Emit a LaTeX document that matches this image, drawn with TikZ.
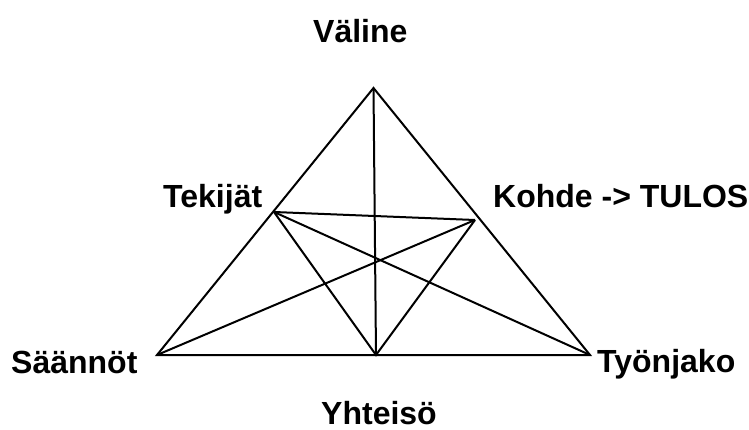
\documentclass[tikz,border=0pt]{standalone}
\usepackage{fontspec}
\setmainfont{Liberation Sans}
\begin{document}
\begin{tikzpicture}[x=1pt,y=-1pt,
  lbl/.style={font=\fontsize{32}{36}\selectfont\bfseries, inner sep=0pt, anchor=base west},
  edge/.style={line width=2pt, line join=miter}]
\useasboundingbox (0,0) rectangle (749,430);
\coordinate (apex) at (373.5,88);
\coordinate (sl) at (157,355);
\coordinate (sr) at (590,355);
\coordinate (ym) at (376,355);
\coordinate (tk) at (274,212);
\coordinate (kh) at (475,220);
\node[lbl] (tv) at (313,43) {Väline};
\node[lbl] (tt) at (163,208) {Tekijät};
\node[lbl] (tkh) at (493,208) {Kohde -> TULOS};
\node[lbl] (ts) at (11,373) {Säännöt};
\node[lbl] (tty) at (597,372) {Työnjako};
\node[lbl] (tyh) at (321,424) {Yhteisö};
\draw[edge] (apex) -- (sl) -- (sr) -- cycle;
\draw[edge] (apex) -- (ym);
\draw[edge] (tk) -- (kh);
\draw[edge] (tk) -- (sr);
\draw[edge] (kh) -- (sl);
\draw[edge] (tk) -- (ym) -- (kh);
\end{tikzpicture}
\end{document}
